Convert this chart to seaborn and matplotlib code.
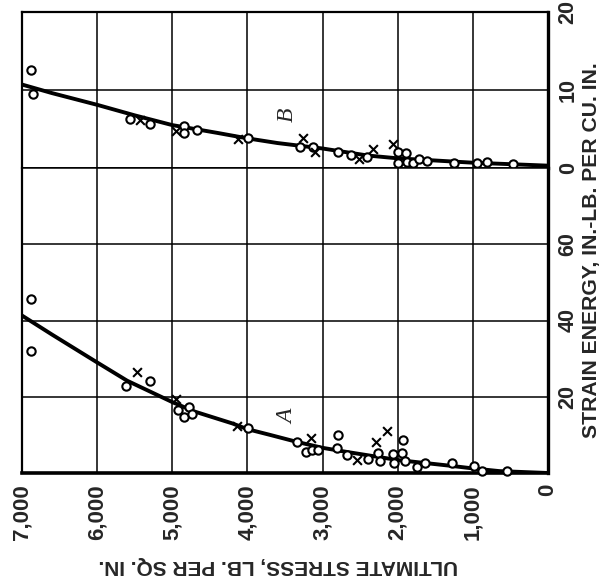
import matplotlib
matplotlib.use("Agg")
import matplotlib.pyplot as plt
import seaborn as sns

# ---------------- data ----------------
stress_ticks = [7000, 6000, 5000, 4000, 3000, 2000, 1000, 0]
stress_tick_labels = ["7,000", "6,000", "5,000", "4,000", "3,000", "2,000", "1,000", "0"]
a_ticks = [0, 20, 40, 60]
a_tick_labels = ["", "20", "40", "60"]
b_ticks = [0, 10, 20]
b_tick_labels = ["0", "10", "20"]

# Curve B (upper panel)
curve_b_stress = [7000, 6600, 6000, 5500, 5000, 4400, 4000, 3600, 3000, 2400, 2000, 1000, 0]
curve_b_energy = [10.7, 9.6, 8.1, 6.75, 5.5, 4.5, 3.8, 3.2, 2.5, 1.6, 1.24, 0.68, 0.3]
b_circle_stress = [6880, 6850, 5563, 5297, 4840, 4840, 4675, 3988, 3300, 3131, 2791, 2626,
                   2413, 2000, 1890, 1992, 1880, 1801, 1713, 1614, 1247, 949, 808, 462]
b_circle_energy = [12.6, 9.5, 6.3, 5.7, 5.4, 4.5, 4.9, 3.9, 2.7, 2.7, 2.0, 1.7,
                   1.4, 2.1, 1.9, 0.7, 0.8, 0.6, 1.2, 0.9, 0.7, 0.6, 0.8, 0.5]
b_cross_stress = [5430, 4950, 4122, 3257, 3101, 2511, 2325, 2059]
b_cross_energy = [6.2, 4.7, 3.7, 3.8, 2.1, 1.1, 2.5, 3.1]

# Curve A (lower panel)
curve_a_stress = [7000, 6600, 6000, 5600, 5000, 4700, 4200, 4000, 3700, 3350, 3000, 2700,
                  2000, 1300, 1000, 650, 0]
curve_a_energy = [41.3, 36.3, 29.0, 24.2, 18.6, 16.1, 13.0, 11.5, 10.0, 8.2, 6.6, 5.6,
                  3.4, 1.9, 1.2, 0.5, 0.0]
a_circle_stress = [6880, 6880, 5616, 5297, 4920, 4778, 4840, 4742, 3988, 3345, 3221, 3145,
                   3057, 2791, 2813, 2679, 2391, 2258, 2236, 2067, 2050, 1934, 1947, 1903,
                   1747, 1637, 1274, 981, 874, 542]
a_circle_energy = [45.6, 32.1, 22.8, 24.2, 16.5, 17.2, 14.8, 15.5, 11.9, 8.2, 5.6, 6.0,
                   6.0, 10.0, 6.5, 4.7, 3.8, 5.2, 3.1, 5.0, 2.5, 8.7, 5.2, 3.2,
                   1.6, 2.5, 2.5, 1.9, 0.5, 0.5]
a_cross_stress = [5474, 4951, 4143, 3158, 2546, 2289, 2147]
a_cross_energy = [26.6, 19.3, 12.4, 9.1, 3.4, 8.2, 11.1]

x_label = "ULTIMATE STRESS, LB. PER SQ. IN."
y_label = "STRAIN ENERGY, IN.-LB. PER CU. IN."

# ---------------- style ----------------
sns.set_theme(style="white")
plt.rcParams["font.family"] = ["Liberation Sans", "DejaVu Sans"]
plt.rcParams["font.weight"] = "bold"

W, H = 603, 584
fig = plt.figure(figsize=(W / 100, H / 100), dpi=100)
left, right = 22 / W, 548 / W
y_top, y_mid, y_bot = 1 - 12 / H, 1 - 168 / H, 1 - 473 / H
ax_b = fig.add_axes([left, y_mid, right - left, y_top - y_mid])
ax_a = fig.add_axes([left, y_bot, right - left, y_mid - y_bot], sharex=ax_b)

grid_lw = 1.1
curve_lw = 2.8

def draw_panel(ax, cs, ce, ocs, oce, xcs, xce):
    sns.lineplot(x=cs, y=ce, ax=ax, color="black", lw=curve_lw, sort=False,
                 estimator=None, zorder=3)
    sns.scatterplot(x=ocs, y=oce, ax=ax, marker="o", s=36, facecolors="white",
                    edgecolor="black", linewidth=1.5, zorder=4, clip_on=False)
    sns.scatterplot(x=xcs, y=xce, ax=ax, marker="x", s=40, color="black",
                    linewidth=1.5, zorder=4, clip_on=False)

draw_panel(ax_b, curve_b_stress, curve_b_energy, b_circle_stress, b_circle_energy,
           b_cross_stress, b_cross_energy)
draw_panel(ax_a, curve_a_stress, curve_a_energy, a_circle_stress, a_circle_energy,
           a_cross_stress, a_cross_energy)

for ax in (ax_a, ax_b):
    ax.set_xlim(7000, 0)
    ax.set_xticks(stress_ticks)
    ax.grid(True, color="black", lw=grid_lw)
    ax.set_axisbelow(True)
    ax.yaxis.tick_right()
    ax.tick_params(axis="both", length=0)
    ax.set_xlabel("")
    ax.set_ylabel("")
    for s in ax.spines.values():
        s.set_color("black")

tick_fs = 16
ytick_fs = 15.5
ax_b.set_ylim(0, 20)
ax_b.set_yticks(b_ticks)
ax_b.set_yticklabels(b_tick_labels, rotation=90, va="center", fontsize=ytick_fs,
                     fontweight="bold")
ax_b.tick_params(axis="x", labelbottom=False)
ax_b.tick_params(axis="y", pad=7)
ax_b.spines["top"].set_linewidth(1.6)
ax_b.spines["left"].set_linewidth(1.6)
ax_b.spines["right"].set_linewidth(2.4)
ax_b.spines["bottom"].set_linewidth(grid_lw)

ax_a.set_ylim(0, 80)
ax_a.set_yticks(a_ticks)
ax_a.set_yticklabels(a_tick_labels, rotation=90, va="center", fontsize=ytick_fs,
                     fontweight="bold")
ax_a.tick_params(axis="y", pad=7)
ax_a.set_xticklabels(stress_tick_labels, rotation=90, fontsize=tick_fs,
                     fontweight="bold")
ax_a.tick_params(axis="x", pad=8)
ax_a.spines["top"].set_linewidth(grid_lw)
ax_a.spines["left"].set_linewidth(1.6)
ax_a.spines["right"].set_linewidth(2.4)
ax_a.spines["bottom"].set_linewidth(2.6)

# curve labels
ax_b.text(3473, 6.8, "B", rotation=90, fontsize=17, style="italic", fontweight="normal",
          family=["Liberation Serif", "DejaVu Serif"], ha="center", va="center")
ax_a.text(3460, 14.7, "A", rotation=90, fontsize=17, style="italic", fontweight="normal",
          family=["Liberation Serif", "DejaVu Serif"], ha="center", va="center")

fig.text(278 / W, 1 - 566 / H, x_label, rotation=180, fontsize=15, fontweight="bold",
         ha="center", va="center")
fig.text(592 / W, 1 - 250 / H, y_label, rotation=90, fontsize=15.2, fontweight="bold",
         ha="center", va="center")

fig.savefig("out.png", dpi=100)
